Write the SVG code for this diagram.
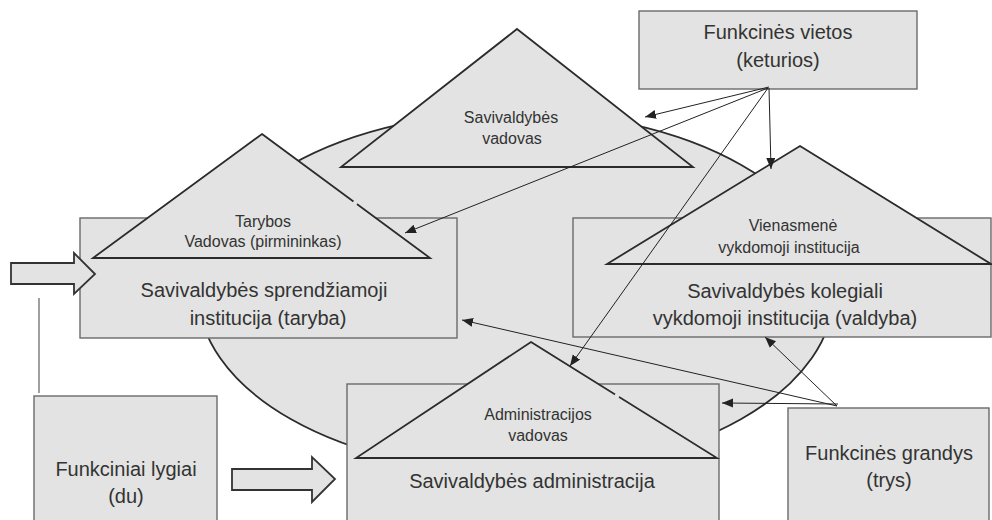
<svg xmlns="http://www.w3.org/2000/svg" width="992" height="520" viewBox="0 0 992 520">
<style>
.bg{fill:#ffffff}
.box{fill:#e2e3e2;stroke:#6a6a6a;stroke-width:1.4}
.tri{fill:#e2e3e2;stroke:#2b2b2b;stroke-width:1.8;stroke-linejoin:miter}
.ell{fill:#e2e3e2;stroke:#2b2b2b;stroke-width:1.8}
.blk{fill:#e2e3e2;stroke:#333333;stroke-width:1.8}
.gap{stroke:#e2e3e2;stroke-width:3.5}
.con{fill:none;stroke:#222222;stroke-width:1}
.lnk{fill:none;stroke:#777777;stroke-width:1.4}
.big{font-family:"Liberation Sans",Arial,sans-serif;font-size:20px;fill:#333333;text-anchor:middle}
.sm{font-family:"Liberation Sans",Arial,sans-serif;font-size:16px;fill:#333333;text-anchor:middle}
</style>
<defs>
<marker id="ah" markerUnits="userSpaceOnUse" markerWidth="12" markerHeight="10" refX="11" refY="4.5" orient="auto">
<path d="M0,0 L11,4.5 L0,9 Z" fill="#222222"/>
</marker>
</defs>
<rect class="bg" x="0" y="0" width="992" height="520"/>
<g id="ellipse">
<ellipse class="ell" cx="516" cy="292" rx="318" ry="180"/>
</g>
<g id="sprendziamoji">
<rect class="box" x="80" y="218" width="377" height="120"/>
<text class="big" x="264" y="297">Savivaldybės sprendžiamoji</text>
<text class="big" x="268" y="325">institucija (taryba)</text>
</g>
<g id="kolegiali">
<rect class="box" x="573" y="218" width="418" height="119"/>
<text class="big" x="785" y="298">Savivaldybės kolegiali</text>
<text class="big" x="785" y="325">vykdomoji institucija (valdyba)</text>
</g>
<g id="administracija">
<rect class="box" x="347" y="384" width="372" height="146"/>
<text class="big" x="532" y="488">Savivaldybės administracija</text>
</g>
<g id="funkciniai-lygiai">
<rect class="box" x="34" y="396" width="183" height="134"/>
<text class="big" x="126" y="476">Funkciniai lygiai</text>
<text class="big" x="126" y="503">(du)</text>
</g>
<g id="funkcines-grandys">
<rect class="box" x="788" y="408" width="201" height="122"/>
<text class="big" x="889" y="460">Funkcinės grandys</text>
<text class="big" x="889" y="487">(trys)</text>
</g>
<g id="funkcines-vietos">
<rect class="box" x="639" y="11" width="278" height="78"/>
<text class="big" x="778" y="39">Funkcinės vietos</text>
<text class="big" x="778" y="67">(keturios)</text>
</g>
<g id="savivaldybes-vadovas">
<polygon class="tri" points="517,29 693,167 341,167"/>
<text class="sm" x="511" y="123">Savivaldybės</text>
<text class="sm" x="512" y="144">vadovas</text>
</g>
<g id="tarybos-vadovas">
<polygon class="tri" points="262,134 430,258 93,258"/>
<line class="gap" x1="353.5" y1="201.5" x2="357" y2="204"/>
<text class="sm" x="263" y="227">Tarybos</text>
<text class="sm" x="263" y="247">Vadovas (pirmininkas)</text>
</g>
<g id="vienasmene">
<polygon class="tri" points="800,146 991,264 607,264"/>
<text class="sm" x="793" y="231">Vienasmenė</text>
<text class="sm" x="789" y="253">vykdomoji institucija</text>
</g>
<g id="administracijos-vadovas">
<polygon class="tri" points="531,342 717,458 356,458"/>
<line class="gap" x1="615" y1="394.5" x2="619" y2="397"/>
<text class="sm" x="538" y="420">Administracijos</text>
<text class="sm" x="538" y="441">vadovas</text>
</g>
<g id="block-arrows">
<polygon class="blk" points="11,263 74,263 74,253 95,274 74,294 74,284 11,284"/>
<polygon class="blk" points="232,469 312,469 312,457 335,479 312,502 312,490 232,490"/>
</g>
<g id="connectors">
<line class="lnk" x1="39" y1="298" x2="39" y2="393"/>
<line class="con" x1="769" y1="87" x2="645" y2="117" marker-end="url(#ah)"/>
<line class="con" x1="768" y1="88" x2="405" y2="233" marker-end="url(#ah)"/>
<line class="con" x1="769" y1="88" x2="771" y2="169" marker-end="url(#ah)"/>
<line class="con" x1="768" y1="88" x2="570" y2="366" marker-end="url(#ah)"/>
<line class="con" x1="837" y1="406" x2="462" y2="320" marker-end="url(#ah)"/>
<line class="con" x1="837" y1="406" x2="765" y2="337" marker-end="url(#ah)"/>
<line class="con" x1="838" y1="404" x2="722" y2="403" marker-end="url(#ah)"/>
</g>
</svg>
